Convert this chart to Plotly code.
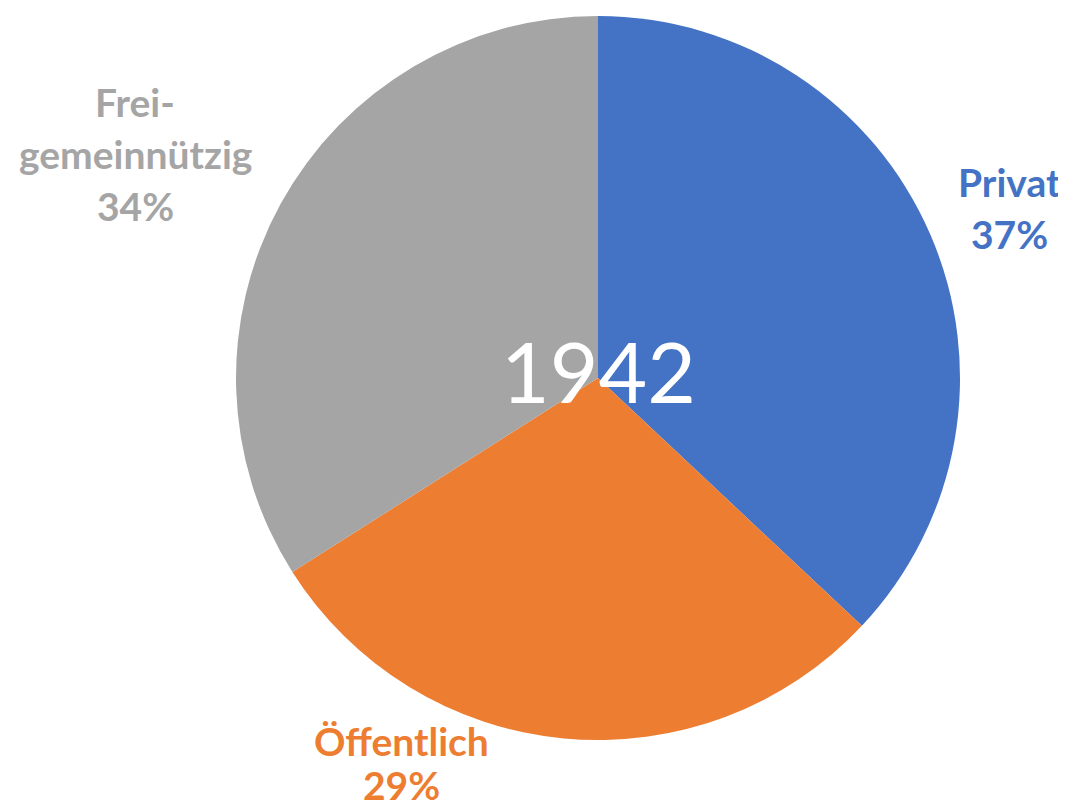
import plotly.graph_objects as go

categories = ["Privat", "Öffentlich", "Frei-gemeinnützig"]
label_lines = [["Privat"], ["Öffentlich"], ["Frei-", "gemeinnützig"]]
values = [37, 29, 34]
colors = ["#4472C4", "#ED7D31", "#A5A5A5"]
center_text = "1942"

# the page body has an 8px margin, so the figure is drawn 8px in from the window corner
OFF = 8
W, H = 1066 - OFF, 812 - OFF
cx, cy, r = 598 - OFF, 378 - OFF, 362

fig = go.Figure(go.Pie(
    labels=categories,
    values=values,
    sort=False,
    direction="clockwise",
    rotation=0,
    marker=dict(colors=colors, line=dict(width=0)),
    textinfo="none",
    hoverinfo="label+percent",
    showlegend=False,
    domain=dict(x=[(cx - r) / W, (cx + r) / W], y=[1 - (cy + r) / H, 1 - (cy - r) / H]),
))

# label anchor positions (window pixel centres of the first line) and line gaps
label_pos = {"Privat": (1009, 182, 52), "Öffentlich": (401, 741, 47), "Frei-gemeinnützig": (135, 102, 52)}
font = "Lato, 'Open Sans', sans-serif"
fs = 39
total = sum(values)
annotations = []
for cat, lines, v, col in zip(categories, label_lines, values, colors):
    x0, y0, gap = label_pos[cat]
    x0 -= OFF
    y0 -= OFF
    texts = lines + [f"{round(100 * v / total)}%"]
    for i, t in enumerate(texts):
        yc = y0 + i * gap
        # keep the text box inside the figure
        yc = min(yc, H - 0.67 * fs - 1)
        annotations.append(dict(
            x=x0 / W, y=1 - yc / H, xref="paper", yref="paper",
            text=f"<b>{t}</b>", showarrow=False, xanchor="center", yanchor="middle",
            font=dict(family=font, size=fs, color=col),
        ))

annotations.append(dict(
    x=cx / W, y=1 - (370 - OFF) / H, xref="paper", yref="paper", text=center_text,
    showarrow=False, xanchor="center", yanchor="middle",
    font=dict(family=font, size=84, color="white"),
))

fig.update_layout(
    width=W, height=H,
    margin=dict(l=0, r=0, t=0, b=0),
    paper_bgcolor="white", plot_bgcolor="white",
    annotations=annotations,
)

fig.write_html("out.html")
